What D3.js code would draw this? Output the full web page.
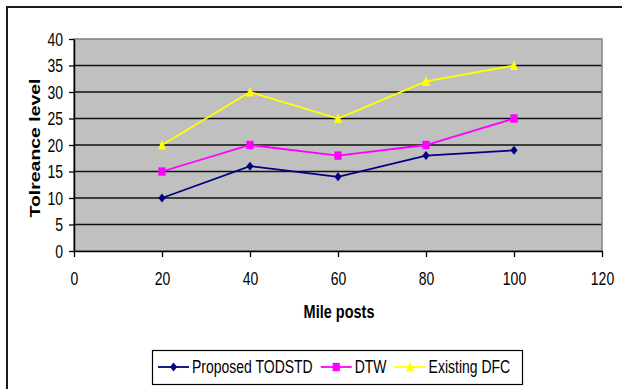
<!DOCTYPE html>
<html><head><meta charset="utf-8">
<script src="https://cdn.jsdelivr.net/npm/d3@7"></script>
<style>
html,body{margin:0;padding:0;background:#fff;}
svg{display:block;font-family:"Liberation Sans",Arial,sans-serif;}
</style></head>
<body><svg id="chart" width="622" height="389"></svg>
<script>
const milePosts = [20, 40, 60, 80, 100];
const proposedTODSTD = [10, 16, 14, 18, 19];
const dtw = [15, 20, 18, 20, 25];
const existingDFC = [20, 30, 25, 32, 35];
const seriesNames = ["Proposed TODSTD", "DTW", "Existing DFC"];
const xTicks = [0, 20, 40, 60, 80, 100, 120];
const yTicks = [0, 5, 10, 15, 20, 25, 30, 35, 40];

const series = [
  {name: seriesNames[0], values: proposedTODSTD, color: "#000080", shape: "diamond"},
  {name: seriesNames[1], values: dtw, color: "#FF00FF", shape: "square"},
  {name: seriesNames[2], values: existingDFC, color: "#FFFF00", shape: "triangle"}
];

const SY = 1.25;
const svg = d3.select("#chart");
const plot = {left: 74, right: 602, top: 39, bottom: 251};
const x = d3.scaleLinear().domain([0, 120]).range([plot.left, plot.right]);
const y = d3.scaleLinear().domain([0, 40]).range([plot.bottom, plot.top]);

// outer frame
svg.append("rect").attr("x", 7).attr("y", 7).attr("width", 640).attr("height", 400)
  .attr("fill", "none").attr("stroke", "#1a1a1a").attr("stroke-width", 2);

// plot background
svg.append("rect").attr("x", plot.left).attr("y", plot.top)
  .attr("width", plot.right - plot.left).attr("height", plot.bottom - plot.top)
  .attr("fill", "#C0C0C0");

// gridlines
svg.append("g").selectAll("line").data(yTicks.filter(d => d > 0 && d < 40)).join("line")
  .attr("x1", plot.left).attr("x2", plot.right)
  .attr("y1", d => y(d)).attr("y2", d => y(d))
  .attr("stroke", "#111").attr("stroke-width", 1.6);

// plot border
svg.append("rect").attr("x", plot.left).attr("y", plot.top)
  .attr("width", plot.right - plot.left).attr("height", plot.bottom - plot.top)
  .attr("fill", "none").attr("stroke", "#808080").attr("stroke-width", 1.5);

// axes
const xAxis = svg.append("g").attr("transform", `translate(0,${plot.bottom})`)
  .call(d3.axisBottom(x).tickValues(xTicks).tickSize(6).tickSizeOuter(0).tickFormat(d3.format("d")));
const yAxis = svg.append("g").attr("transform", `translate(${plot.left},0)`)
  .call(d3.axisLeft(y).tickValues(yTicks).tickSize(5).tickSizeOuter(0).tickFormat(d3.format("d")));
[xAxis, yAxis].forEach(a => {
  a.select(".domain").attr("stroke", "#000").attr("stroke-width", 1.5);
  a.selectAll(".tick line").attr("stroke", "#000").attr("stroke-width", 1.3);
  a.selectAll(".tick text").attr("fill", "#000").style("font-size", "14px")
    .style("font-family", '"Liberation Sans",Arial,sans-serif');
});
xAxis.selectAll(".tick text").attr("y", 0).attr("dy", 0)
  .attr("transform", `translate(0,34) scale(1,${SY})`);
yAxis.selectAll(".tick text").attr("x", 0).attr("dy", "0.36em")
  .attr("transform", `translate(-11,0) scale(1,${SY})`);

// marker paths
function markerPath(shape) {
  if (shape === "diamond") return "M0,-4.5L3.6,0L0,4.5L-3.6,0Z";
  if (shape === "square") return "M-3.6,-4.2L3.6,-4.2L3.6,4.2L-3.6,4.2Z";
  return "M0,-5.5L4,4.5L-4,4.5Z";
}

const line = d3.line().x((d, i) => x(milePosts[i])).y(d => y(d));
series.forEach(s => {
  svg.append("path").datum(s.values).attr("d", line)
    .attr("fill", "none").attr("stroke", s.color).attr("stroke-width", 1.8);
  svg.append("g").selectAll("path").data(s.values).join("path")
    .attr("d", markerPath(s.shape))
    .attr("transform", (d, i) => `translate(${x(milePosts[i])},${y(d)})`)
    .attr("fill", s.color);
});

// axis titles
svg.append("text").attr("transform", `translate(339,318) scale(1,${SY})`)
  .attr("text-anchor", "middle").style("font-size", "14.5px").style("font-weight", "bold")
  .text("Mile posts");
svg.append("text").attr("transform", `translate(40,148) rotate(-90)`)
  .attr("text-anchor", "middle").style("font-size", "15px").style("font-weight", "bold")
  .attr("textLength", 139).attr("lengthAdjust", "spacingAndGlyphs")
  .text("Tolreance level");

// legend
const lg = {x: 152, y: 350, w: 370, h: 34};
svg.append("rect").attr("x", lg.x + 0.5).attr("y", lg.y + 0.5).attr("width", lg.w).attr("height", lg.h)
  .attr("fill", "#fff").attr("stroke", "#000").attr("stroke-width", 1.2);
let cx = lg.x + 6;
const ly = lg.y + 17;
series.forEach(s => {
  svg.append("line").attr("x1", cx).attr("x2", cx + 31).attr("y1", ly).attr("y2", ly)
    .attr("stroke", s.color).attr("stroke-width", 1.8);
  svg.append("path").attr("d", markerPath(s.shape))
    .attr("transform", `translate(${cx + 15.5},${ly})`).attr("fill", s.color);
  const t = svg.append("text").attr("transform", `translate(${cx + 34},${ly + 6}) scale(1,${SY})`)
    .style("font-size", "14px").attr("fill", "#000").text(s.name);
  cx += 34 + t.node().getComputedTextLength() + 8;
});
</script></body></html>
